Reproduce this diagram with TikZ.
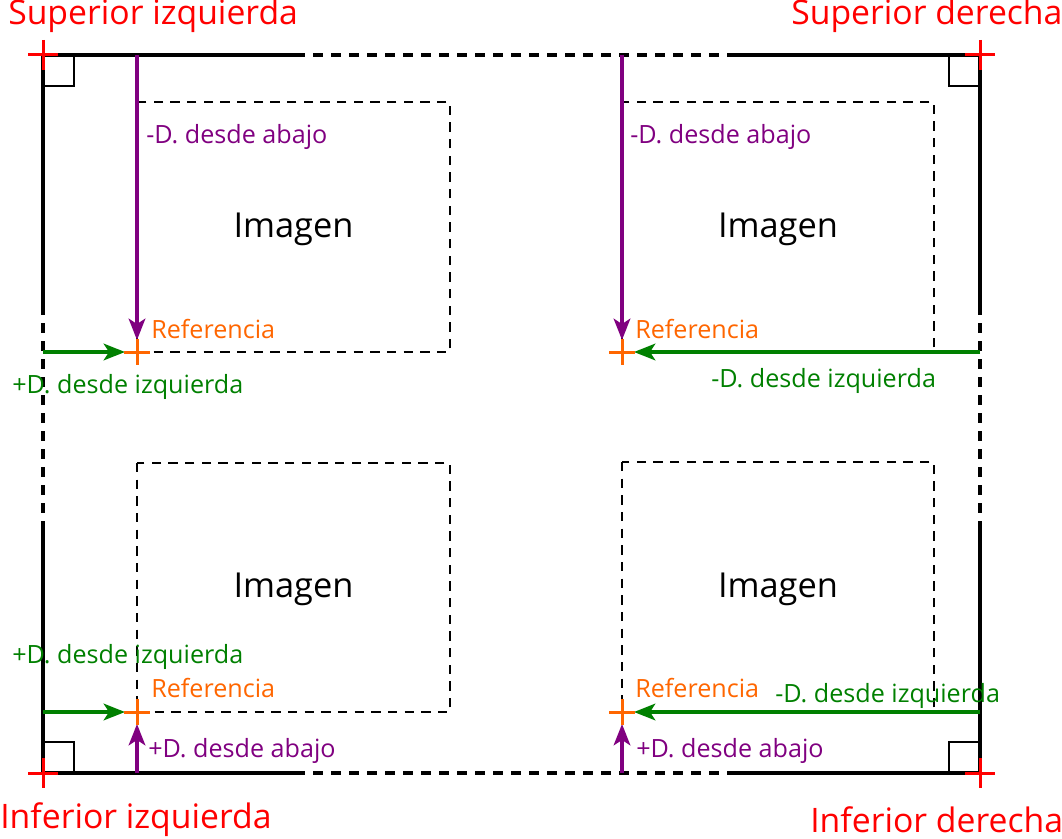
\documentclass[tikz,border=0pt]{standalone}
\usepackage{fontspec}
\setmainfont{Open Sans}
\usetikzlibrary{arrows.meta}
\definecolor{cred}{RGB}{255,0,0}
\definecolor{cpurple}{RGB}{128,0,128}
\definecolor{cgreen}{RGB}{0,128,0}
\definecolor{corange}{RGB}{255,102,0}
\tikzset{
  xmark/.pic={\draw[line width=2.25pt,pic actions] (-15,0)--(15,0) (0,-15)--(0,15);},
  omark/.pic={\draw[line width=2.25pt,pic actions] (-13,0)--(13,0) (0,-13)--(0,13);},
}
\begin{document}
\begin{tikzpicture}[x=0.75pt,y=-0.75pt,
  frame/.style={line width=2.4pt, black},
  framedash/.style={line width=2.4pt, black, dash pattern=on 7.5pt off 6pt},
  imgbox/.style={line width=1pt, black, dash pattern=on 7pt off 5.5pt},
  anglebox/.style={line width=1pt, black},
  arr/.style={line width=2.4pt, -{Stealth[length=16pt,width=12.5pt,inset=4pt]}, shorten >=9pt},
  corner/.style={text=cred, inner sep=0, anchor=base west, font=\fontsize{25.3}{30}\selectfont},
  small/.style={inner sep=0, anchor=base west, font=\fontsize{18.85}{22}\selectfont},
  imglabel/.style={inner sep=0, anchor=base, font=\fontsize{25.8}{30}\selectfont},
]
\useasboundingbox (0,0) rectangle (1062,838);

% frame corners
\coordinate (tl) at (43,55);
\coordinate (tr) at (980,55);
\coordinate (bl) at (43,773);
\coordinate (br) at (980,773);

% frame
\draw[frame] (295,55) -- (tl) -- (43,305);
\draw[frame] (731,55) -- (tr) -- (980,305);
\draw[frame] (295,773) -- (bl) -- (43,522);
\draw[frame] (731,773) -- (br) -- (980,525);
\draw[framedash] (295,55) -- (731,55);
\draw[framedash] (295,773) -- (731,773);
\draw[framedash] (43,305) -- (43,522);
\draw[framedash] (980,305) -- (980,525);

% right angle marks
\draw[anglebox] (43,86) -| (74,55);
\draw[anglebox] (43,742) -| (74,773);
\draw[anglebox] (980,86) -| (949,55);
\draw[anglebox] (980,742) -| (949,773);

% image boxes
\draw[imgbox] (137,102) rectangle (450,352);
\draw[imgbox] (622,102) rectangle (934,352);
\draw[imgbox] (137,463) rectangle (450,712);
\draw[imgbox] (622,462) rectangle (934,712);
\node[imglabel] (img1) at (293.5,237) {Imagen};
\node[imglabel] (img2) at (778,237) {Imagen};
\node[imglabel] (img3) at (293.5,597) {Imagen};
\node[imglabel] (img4) at (778,597) {Imagen};

% reference points
\coordinate (r1) at (137,352);
\coordinate (r2) at (622,352);
\coordinate (r3) at (137,712);
\coordinate (r4) at (622,712);

% arrow start points on frame
\coordinate (p1) at (137,55);
\coordinate (p2) at (622,55);
\coordinate (p3) at (137,773);
\coordinate (p4) at (622,773);
\coordinate (g1) at (43,352);
\coordinate (g2) at (980,352);
\coordinate (g3) at (43,712);
\coordinate (g4) at (980,712);

\draw[arr, cpurple] (p1) -- (r1);
\draw[arr, cpurple] (p2) -- (r2);
\draw[arr, cpurple] (p3) -- (r3);
\draw[arr, cpurple] (p4) -- (r4);
\draw[arr, cgreen] (g1) -- (r1);
\draw[arr, cgreen] (g2) -- (r2);
\draw[arr, cgreen] (g3) -- (r3);
\draw[arr, cgreen] (g4) -- (r4);

\pic[draw=corange] at (r1) {omark};
\pic[draw=corange] at (r2) {omark};
\pic[draw=corange] at (r3) {omark};
\pic[draw=corange] at (r4) {omark};

\pic[draw=cred] at (tl) {xmark};
\pic[draw=cred] at (tr) {xmark};
\pic[draw=cred] at (bl) {xmark};
\pic[draw=cred] at (br) {xmark};

% labels
\node[corner] (ltl) at (8,25) {Superior izquierda};
\node[corner] (ltr) at (791,25) {Superior derecha};
\node[corner] (lbl) at (0,828) {Inferior izquierda};
\node[corner] (lbr) at (810,832) {Inferior derecha};

\node[small, text=cpurple] (d1) at (146,143) {-D. desde abajo};
\node[small, text=cpurple] (d2) at (630,143) {-D. desde abajo};
\node[small, text=cpurple] (d3) at (148,757) {+D. desde abajo};
\node[small, text=cpurple] (d4) at (636,757) {+D. desde abajo};

\node[small, text=corange] (f1) at (151,338) {Referencia};
\node[small, text=corange] (f2) at (635,338) {Referencia};
\node[small, text=corange] (f3) at (151,697) {Referencia};
\node[small, text=corange] (f4) at (635,697) {Referencia};

\node[small, text=cgreen] (e1) at (12,393) {+D. desde izquierda};
\node[small, text=cgreen] (e2) at (711,387) {-D. desde izquierda};
\node[small, text=cgreen] (e3) at (12,663) {+D. desde izquierda};
\node[small, text=cgreen] (e4) at (775,702) {-D. desde izquierda};
\end{tikzpicture}
\end{document}
